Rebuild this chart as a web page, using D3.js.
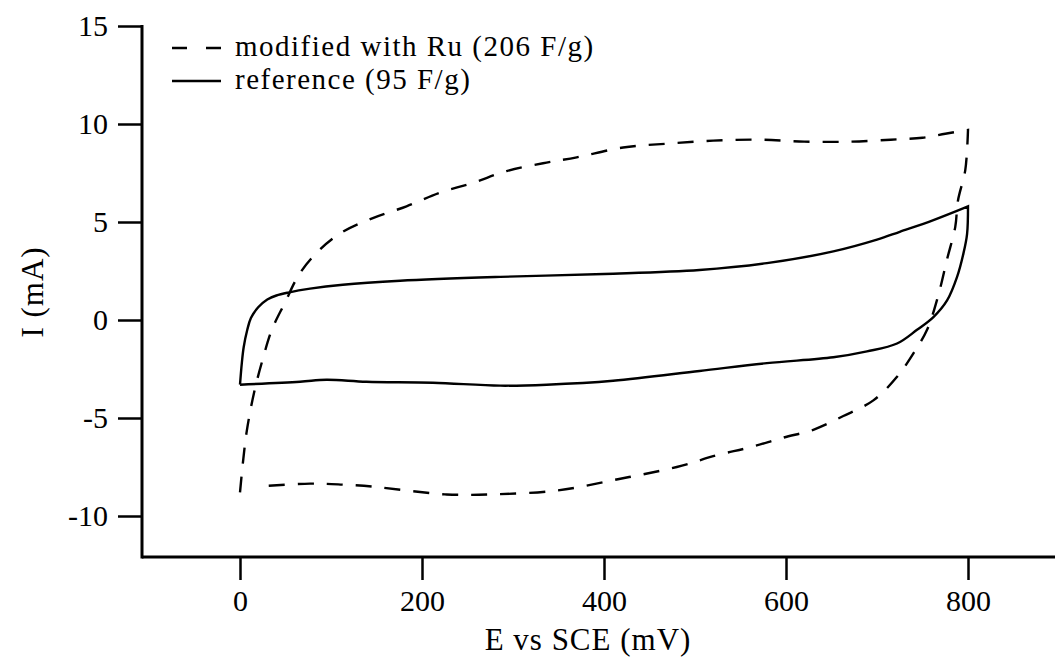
<!DOCTYPE html>
<html>
<head>
<meta charset="utf-8">
<script src="https://cdn.jsdelivr.net/npm/d3@7"></script>
<style>
  body { margin: 0; background: #fff; }
  svg text { font-family: "Liberation Serif", "Times New Roman", serif; fill: #000; }
</style>
</head>
<body>
<div id="graph"></div>
<script>
const svgw = 1055
const svgh = 671

// reference electrode (solid): forward scan, then reverse scan
const refFwdE = [0, 2, 4, 8, 12, 20, 30, 40, 53, 77, 113, 176, 286, 400, 505, 579, 652, 700, 725, 762, 800]
const refFwdI = [-3.3, -2.2, -1.4, -0.5, 0.1, 0.65, 1.05, 1.25, 1.4, 1.6, 1.8, 2.0, 2.2, 2.35, 2.55, 2.9, 3.5, 4.1, 4.5, 5.1, 5.8]
const refRevE = [800, 799, 795, 788, 777, 762, 744, 722, 689, 652, 579, 505, 410, 337, 286, 212, 139, 95, 66, 0]
const refRevI = [5.8, 4.4, 3.4, 2.2, 1.0, 0.15, -0.5, -1.2, -1.6, -1.9, -2.2, -2.6, -3.1, -3.3, -3.35, -3.2, -3.15, -3.05, -3.15, -3.3]

// modified with Ru (dashed)
const ruFwdE = [0, 7, 16, 25, 35, 49, 66, 88, 113, 146, 183, 220, 256, 293, 333, 370, 421, 470, 520, 570, 620, 670, 715, 750, 775, 800]
const ruFwdI = [-8.8, -5.8, -3.6, -2.0, -0.5, 0.85, 2.4, 3.6, 4.5, 5.2, 5.8, 6.5, 7.0, 7.6, 8.0, 8.3, 8.8, 9.0, 9.15, 9.2, 9.1, 9.1, 9.2, 9.3, 9.5, 9.7]
const ruRevE = [800, 797, 789, 786, 777, 767, 755, 740, 722, 696, 663, 630, 597, 560, 524, 480, 418, 348, 275, 227, 183, 146, 113, 77, 18]
const ruRevI = [9.7, 7.65, 6.1, 4.75, 3.1, 1.2, -0.5, -1.7, -2.9, -4.1, -4.9, -5.6, -6.0, -6.5, -6.9, -7.5, -8.1, -8.7, -8.9, -8.9, -8.7, -8.5, -8.4, -8.35, -8.5]

const xTicks = [0, 200, 400, 600, 800]
const yTicks = [-10, -5, 0, 5, 10, 15]
const legendLabels = ['modified with Ru (206 F/g)', 'reference (95 F/g)']

const svg = d3.select('#graph')
    .append('svg')
    .attr('width', svgw)
    .attr('height', svgh)

const xScale = d3.scaleLinear().domain([0, 800]).range([240, 968])
const yScale = d3.scaleLinear().domain([0, 10]).range([320, 124])

const axisLeftX = 142
const axisBottomY = 557

// axes
const xAxis = d3.axisBottom(xScale).tickValues(xTicks).tickSize(23).tickPadding(10)
    .tickFormat(d => String(d))
const yAxis = d3.axisLeft(yScale).tickValues(yTicks).tickSize(24).tickPadding(10)
    .tickFormat(d => String(d))

const gx = svg.append('g')
    .attr('transform', `translate(0,${axisBottomY})`)
    .call(xAxis)
const gy = svg.append('g')
    .attr('transform', `translate(${axisLeftX},0)`)
    .call(yAxis)

gx.select('.domain').remove()
gy.select('.domain').remove()
svg.selectAll('.tick line').attr('stroke', '#000').attr('stroke-width', 2.5)
svg.selectAll('.tick text').style('font-size', '30px')

svg.append('line')
    .attr('x1', axisLeftX).attr('x2', svgw)
    .attr('y1', axisBottomY).attr('y2', axisBottomY)
    .attr('stroke', '#000').attr('stroke-width', 3)
svg.append('line')
    .attr('x1', axisLeftX).attr('x2', axisLeftX)
    .attr('y1', yScale(15) - 1).attr('y2', axisBottomY + 1.5)
    .attr('stroke', '#000').attr('stroke-width', 3)

// curves: each branch smoothed on its own so the turn at 800 mV stays sharp
const line = d3.line()
    .x(d => xScale(d[0]))
    .y(d => yScale(d[1]))
    .curve(d3.curveCatmullRom.alpha(0.5))

function loopPath(fE, fI, rE, rI) {
    const fwd = line(fE.map((e, i) => [e, fI[i]]))
    const rev = line(rE.map((e, i) => [e, rI[i]]))
    return fwd + rev.replace(/^M/, 'L')
}

svg.append('path')
    .attr('d', loopPath(ruFwdE, ruFwdI, ruRevE, ruRevI))
    .attr('fill', 'none')
    .attr('stroke', '#000')
    .attr('stroke-width', 2.4)
    .attr('stroke-dasharray', '16,13')

svg.append('path')
    .attr('d', loopPath(refFwdE, refFwdI, refRevE, refRevI))
    .attr('fill', 'none')
    .attr('stroke', '#000')
    .attr('stroke-width', 2.4)

// axis titles
svg.append('text')
    .attr('x', 588)
    .attr('y', 650)
    .attr('text-anchor', 'middle')
    .style('font-size', '31px')
    .style('letter-spacing', '1px')
    .text('E vs SCE (mV)')

svg.append('text')
    .attr('transform', `translate(43,292) rotate(-90)`)
    .attr('text-anchor', 'middle')
    .style('font-size', '31px')
    .style('letter-spacing', '1px')
    .text('I (mA)')

// legend
const legend = svg.append('g')
legendLabels.forEach((lab, i) => {
    const ly = 48 + i * 33
    legend.append('line')
        .attr('x1', 172).attr('x2', 221)
        .attr('y1', ly).attr('y2', ly)
        .attr('stroke', '#000')
        .attr('stroke-width', 2.4)
        .attr('stroke-dasharray', i === 0 ? '15,19' : null)
    legend.append('text')
        .attr('x', 235)
        .attr('y', ly + 8)
        .style('font-size', '29px')
        .style('letter-spacing', '1.5px')
        .text(lab)
})
</script>
</body>
</html>
